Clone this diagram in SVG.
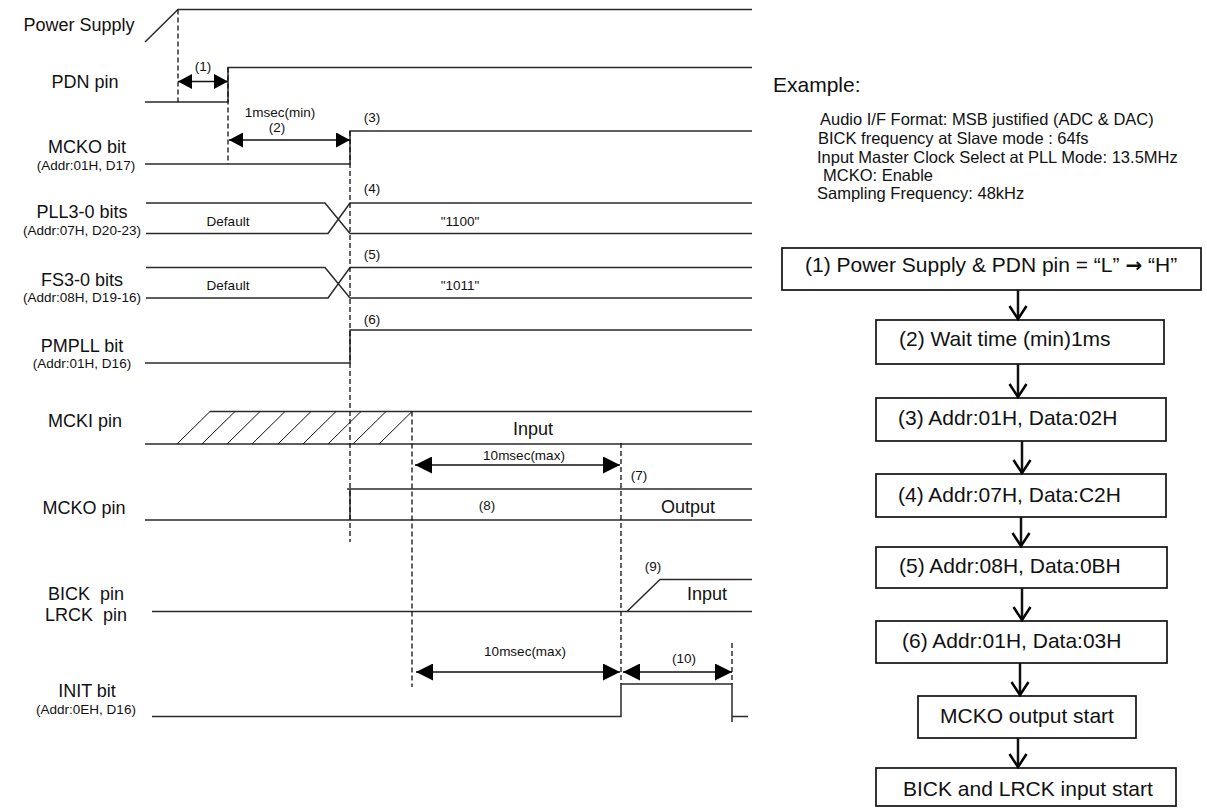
<svg xmlns="http://www.w3.org/2000/svg" width="1207" height="808" viewBox="0 0 1207 808">
<style>
text{font-family:"Liberation Sans",Arial,sans-serif;fill:#111}
.lbl{font-size:18px;text-anchor:middle}
.sub{font-size:13.5px;text-anchor:middle}
.sm{font-size:13.5px;text-anchor:middle}
.big{font-size:18px;text-anchor:middle}
.ex{font-size:16.5px}
.fc{font-size:21px}
.arr{font-family:"DejaVu Sans",sans-serif;font-size:20px;font-weight:bold}
.w{fill:none;stroke:#2a2a2a;stroke-width:1.5}
.d{fill:none;stroke:#111;stroke-width:1.3;stroke-dasharray:5,3}
.h{fill:none;stroke:#111;stroke-width:1}
.dim{fill:none;stroke:#111;stroke-width:1.3}
.box{fill:#fff;stroke:#111;stroke-width:1.7}
.fa{fill:none;stroke:#111;stroke-width:2.5}
.pre{white-space:pre}
</style>
<defs>
<marker id="ah" viewBox="0 0 17 17" refX="17" refY="8.5" markerWidth="17" markerHeight="17" markerUnits="userSpaceOnUse" orient="auto-start-reverse"><path d="M0,0 L17,8.5 L0,17 z" fill="#000"/></marker>
<marker id="ahs" viewBox="0 0 14 15" refX="14" refY="7.5" markerWidth="14" markerHeight="15" markerUnits="userSpaceOnUse" orient="auto-start-reverse"><path d="M0,0 L14,7.5 L0,15 z" fill="#000"/></marker>
<marker id="vee" viewBox="0 0 16 20" refX="14" refY="10" markerWidth="16" markerHeight="20" markerUnits="userSpaceOnUse" orient="auto" overflow="visible"><path d="M1,1.5 L14,10 L1,18.5" fill="none" stroke="#000" stroke-width="2.5"/></marker>
</defs>

<g id="sig-power">
<polyline class="w" points="145,42 178,9.5 752,9.5"/>
<text class="lbl" x="79" y="31">Power Supply</text>
</g>

<g id="sig-pdn">
<polyline class="w" points="145,102 228,102 228,67.5 752,67.5"/>
<text class="lbl" x="85" y="88">PDN pin</text>
</g>

<g id="sig-mcko-bit">
<polyline class="w" points="145,164 350,164 350,131 752,131"/>
<text class="lbl" x="87" y="153">MCKO bit</text>
<text class="sub" x="86" y="170">(Addr:01H, D17)</text>
</g>

<g id="sig-pll">
<path class="w" d="M146,203 H325 L350,233.5 H752 M146,233.5 H328 L350,203 H752"/>
<text class="lbl" x="82" y="218">PLL3-0 bits</text>
<text class="sub" x="82" y="235">(Addr:07H, D20-23)</text>
<text class="sm" x="228" y="226">Default</text>
<text class="sm" x="460" y="226">"1100"</text>
</g>

<g id="sig-fs">
<path class="w" d="M146,267.5 H325 L350,298 H752 M146,298 H328 L350,267.5 H752"/>
<text class="lbl" x="82" y="286">FS3-0 bits</text>
<text class="sub" x="82" y="302">(Addr:08H, D19-16)</text>
<text class="sm" x="228" y="290">Default</text>
<text class="sm" x="460" y="290">"1011"</text>
</g>

<g id="sig-pmpll">
<polyline class="w" points="145,363 350,363 350,330 752,330"/>
<text class="lbl" x="82" y="352">PMPLL bit</text>
<text class="sub" x="82" y="368">(Addr:01H, D16)</text>
</g>

<g id="sig-mcki">
<path class="w" d="M210,411.5 H752 M145,444 H752"/>
<path class="h" d="M177,444 L210,411.5 M202,444 L235,411.5 M227,444 L260,411.5 M252,444 L285,411.5 M278,444 L311,411.5 M303,444 L336,411.5 M328,444 L361,411.5 M353,444 L386,411.5 M379,444 L412,411.5"/>
<text class="lbl" x="85" y="427">MCKI pin</text>
<text class="big" x="533" y="435">Input</text>
</g>

<g id="sig-mcko-pin">
<path class="w" d="M347,489 H752 M145,520 H752 M350,489 V520"/>
<text class="lbl" x="84" y="514">MCKO pin</text>
<text class="sm" x="487" y="510">(8)</text>
<text class="big" x="688" y="513">Output</text>
<text class="sm" x="639" y="480">(7)</text>
</g>

<g id="sig-bick">
<path class="w" d="M152,611.5 H752 M627,611.5 L660,579.5 H752"/>
<text class="lbl pre" x="86" y="600">BICK  pin</text>
<text class="lbl pre" x="86" y="621">LRCK  pin</text>
<text class="sm" x="653" y="571">(9)</text>
<text class="big" x="707" y="600">Input</text>
</g>

<g id="sig-init">
<path class="w" d="M152,716.5 H621 V684 H732 V722 M732,716.5 H748"/>
<text class="lbl" x="87" y="697">INIT bit</text>
<text class="sub" x="86" y="714">(Addr:0EH, D16)</text>
</g>

<g id="timing-guides">
<path class="d" d="M178,9.5 V102 M228,67.5 V164 M350,131 V542 M412,411.5 V687 M621,443 V684 M732,643 V684"/>
<line class="dim" x1="178" y1="81.5" x2="228" y2="81.5" marker-start="url(#ahs)" marker-end="url(#ahs)"/>
<line class="dim" x1="229" y1="140" x2="350" y2="140" marker-start="url(#ahs)" marker-end="url(#ahs)"/>
<line class="dim" x1="415" y1="465" x2="620" y2="465" marker-start="url(#ah)" marker-end="url(#ah)"/>
<line class="dim" x1="416" y1="672" x2="620" y2="672" marker-start="url(#ah)" marker-end="url(#ah)"/>
<line class="dim" x1="623" y1="672" x2="732" y2="672" marker-start="url(#ah)" marker-end="url(#ah)"/>
<text class="sm" x="203" y="71">(1)</text>
<text class="sm" x="280" y="117">1msec(min)</text>
<text class="sm" x="277" y="132">(2)</text>
<text class="sm" x="372" y="122">(3)</text>
<text class="sm" x="372" y="193">(4)</text>
<text class="sm" x="372" y="259">(5)</text>
<text class="sm" x="372" y="324">(6)</text>
<text class="sm" x="524" y="460">10msec(max)</text>
<text class="sm" x="525" y="656">10msec(max)</text>
<text class="sm" x="684" y="663">(10)</text>
</g>

<g id="example">
<text x="773" y="92" style="font-size:21px">Example:</text>
<text class="ex" x="820" y="125">Audio I/F Format: MSB justified (ADC &amp; DAC)</text>
<text class="ex" x="818" y="144">BICK frequency at Slave mode : 64fs</text>
<text class="ex" x="817" y="163">Input Master Clock Select at PLL Mode: 13.5MHz</text>
<text class="ex" x="823" y="181">MCKO: Enable</text>
<text class="ex" x="817" y="199">Sampling Frequency: 48kHz</text>
</g>

<g id="fc1"><rect class="box" x="782" y="248" width="419" height="42"/><text class="fc" x="805" y="272">(1) Power Supply &amp; PDN pin = “L” <tspan class="arr">→</tspan> “H”</text></g>
<g id="fc2"><rect class="box" x="876" y="320" width="288" height="44"/><text class="fc" x="899" y="346">(2) Wait time (min)1ms</text></g>
<g id="fc3"><rect class="box" x="876" y="398" width="290" height="43"/><text class="fc" x="898" y="425">(3) Addr:01H, Data:02H</text></g>
<g id="fc4"><rect class="box" x="876" y="474" width="290" height="43"/><text class="fc" x="898" y="502">(4) Addr:07H, Data:C2H</text></g>
<g id="fc5"><rect class="box" x="876" y="547" width="291" height="41"/><text class="fc" x="899" y="573">(5) Addr:08H, Data:0BH</text></g>
<g id="fc6"><rect class="box" x="876" y="621" width="291" height="42"/><text class="fc" x="902" y="648">(6) Addr:01H, Data:03H</text></g>
<g id="fc7"><rect class="box" x="918" y="696" width="218" height="42"/><text class="fc" x="940" y="723">MCKO output start</text></g>
<g id="fc8"><rect class="box" x="876" y="768" width="300" height="38"/><text class="fc" x="903" y="796">BICK and LRCK input start</text></g>

<g id="connectors">
<line class="fa" x1="1018" y1="290" x2="1018" y2="319" marker-end="url(#vee)"/>
<line class="fa" x1="1018" y1="364" x2="1018" y2="397" marker-end="url(#vee)"/>
<line class="fa" x1="1022" y1="441" x2="1022" y2="473" marker-end="url(#vee)"/>
<line class="fa" x1="1021" y1="517" x2="1021" y2="546" marker-end="url(#vee)"/>
<line class="fa" x1="1022" y1="588" x2="1022" y2="620" marker-end="url(#vee)"/>
<line class="fa" x1="1020" y1="663" x2="1020" y2="695" marker-end="url(#vee)"/>
<line class="fa" x1="1018" y1="738" x2="1018" y2="767" marker-end="url(#vee)"/>
</g>
</svg>
